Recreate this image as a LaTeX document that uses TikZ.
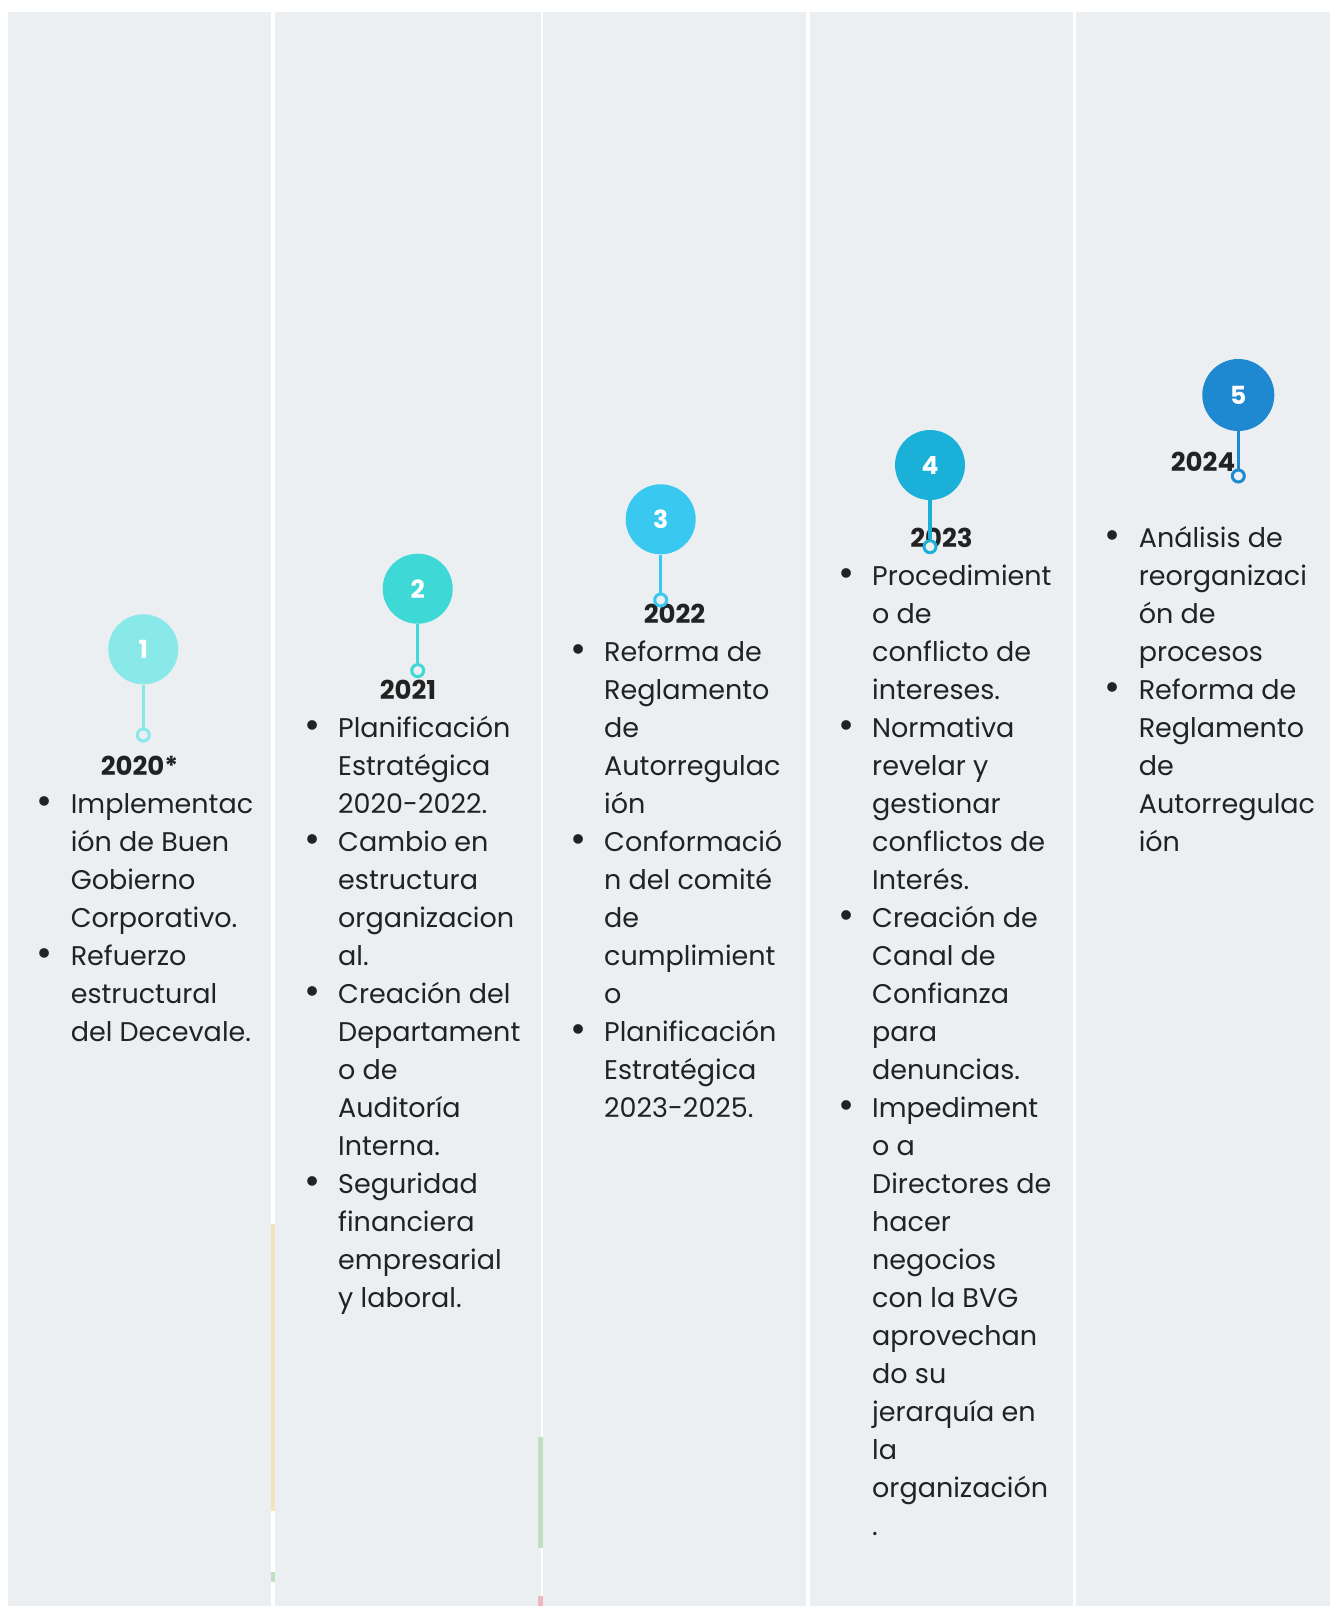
\documentclass[tikz,border=0pt]{standalone}
\usepackage{fontspec}
\setmainfont{Poppins}
\usepackage{xcolor}

\definecolor{panel}{HTML}{EBEFF2}
\definecolor{ink}{HTML}{222222}
\definecolor{cA}{HTML}{88E9E8}
\definecolor{cB}{HTML}{3ED8D6}
\definecolor{cC}{HTML}{39C8F0}
\definecolor{cD}{HTML}{1AB0D8}
\definecolor{cE}{HTML}{1E88D0}
\definecolor{peach}{HTML}{F5E2C0}
\definecolor{mint}{HTML}{C0E0C2}
\definecolor{rose}{HTML}{EBB8C0}

% hanging bullet in front of an item
\newcommand\itm{\makebox[0pt][r]{\raisebox{-1.5pt}{\scalebox{1.45}{•}}\hspace{18pt}}}

\tikzset{
  dot/.style={circle, minimum size=70pt, inner sep=0pt, text=white,
    font=\fontsize{25}{25}\selectfont\bfseries},
  ring/.style={circle, minimum size=12pt, inner sep=0pt, line width=3pt, fill=panel},
  stem/.style={line width=3.5pt},
  year/.style={anchor=base, inner sep=0pt, text=ink,
    font=\fontsize{26}{38}\selectfont\bfseries},
  % anchored at the baseline of the last line
  items/.style={anchor=base west, align=left, inner sep=0pt, text=ink,
    font=\fontsize{27}{38}\selectfont},
}

\begin{document}
\begin{tikzpicture}[x=1pt,y=-1pt]
  \useasboundingbox (0,0) rectangle (1330,1606);
  \fill[white] (0,0) rectangle (1330,1606);

  % columns
  \fill[panel] (8,12) rectangle (271,1606);
  \fill[panel] (275,12) rectangle (541,1606);
  \fill[panel] (543,12) rectangle (806,1606);
  \fill[panel] (810,12) rectangle (1073,1606);
  \fill[panel] (1076,12) rectangle (1330,1606);
  \fill[peach] (271,1224) rectangle (275,1511);
  \fill[mint] (271,1572) rectangle (275,1582);
  \fill[mint] (538,1437) rectangle (542.5,1548);
  \fill[rose] (538,1596) rectangle (542.5,1606);

  % years and items (38pt per line)
  \node[year, name=y1] at (139.5,775) {2020*};
  \node[items, name=t1] at (70.6,1041) {\itm Implementac\\ión de Buen\\Gobierno\\Corporativo.\\
    \itm Refuerzo\\estructural\\del Decevale.};

  \node[year, name=y2] at (408,699) {2021};
  \node[items, name=t2] at (338,1307) {\itm Planificación\\Estratégica\\2020-2022.\\
    \itm Cambio en\\estructura\\organizacion\\al.\\
    \itm Creación del\\Departament\\o de\\Auditoría\\Interna.\\
    \itm Seguridad\\financiera\\empresarial\\y laboral.};

  \node[year, name=y3] at (674.5,623) {2022};
  \node[items, name=t3] at (604,1117) {\itm Reforma de\\Reglamento\\de\\Autorregulac\\ión\\
    \itm Conformació\\n del comité\\de\\cumplimient\\o\\
    \itm Planificación\\Estratégica\\2023-2025.};

  \node[year, name=y4] at (941.5,547) {2023};
  \node[items, name=t4] at (872,1535) {\itm Procedimient\\o de\\conflicto de\\intereses.\\
    \itm Normativa\\revelar y\\gestionar\\conflictos de\\Interés.\\
    \itm Creación de\\Canal de\\Confianza\\para\\denuncias.\\
    \itm Impediment\\o a\\Directores de\\hacer\\negocios\\con la BVG\\aprovechan\\do su\\jerarquía en\\la\\organización\\.};

  \node[year, name=y5] at (1203,471) {2024};
  \node[items, name=t5] at (1138.6,851) {\itm Análisis de\\reorganizaci\\ón de\\procesos\\
    \itm Reforma de\\Reglamento\\de\\Autorregulac\\ión};

  % markers
  \node[dot, fill=cA, name=n1] at (143.3,649.3) {1};
  \node[ring, draw=cA, name=r1] at (143.3,735) {};
  \path[stem, draw=cA] (n1) edge (r1);

  \node[dot, fill=cB, name=n2] at (417.7,588.7) {2};
  \node[ring, draw=cB, name=r2] at (417.7,670.6) {};
  \path[stem, draw=cB] (n2) edge (r2);

  \node[dot, fill=cC, name=n3] at (660.7,519.3) {3};
  \node[ring, draw=cC, name=r3] at (660.7,600) {};
  \path[stem, draw=cC] (n3) edge (r3);

  \node[dot, fill=cD, name=n4] at (930,465) {4};
  \node[ring, draw=cD, name=r4] at (930,546.7) {};
  \path[stem, draw=cD] (n4) edge (r4);

  \node[dot, fill=cE, minimum size=72pt, name=n5] at (1238.3,395) {5};
  \node[ring, draw=cE, name=r5] at (1238.3,476) {};
  \path[stem, draw=cE] (n5) edge (r5);
\end{tikzpicture}
\end{document}
